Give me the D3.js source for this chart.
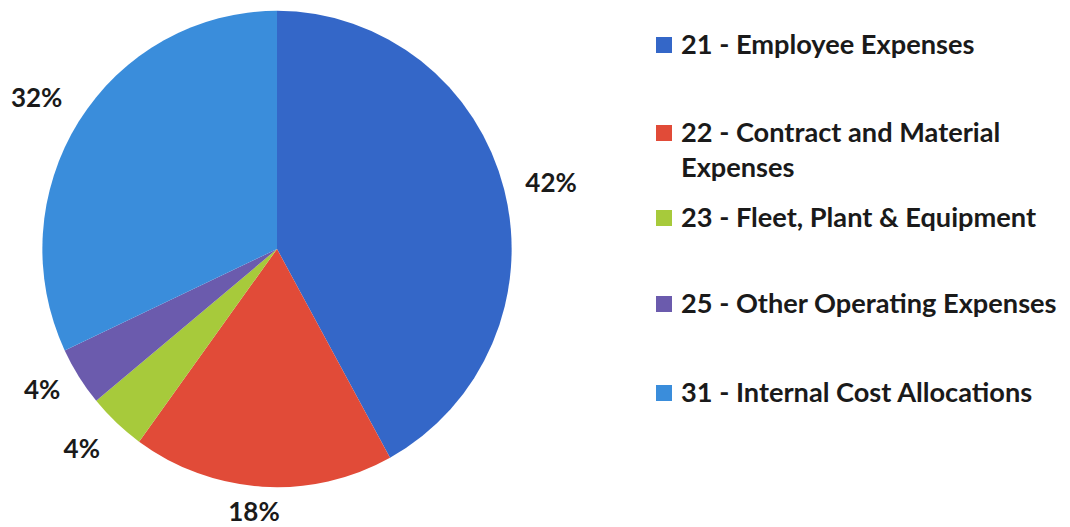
<!DOCTYPE html>
<html>
<head>
<meta charset="utf-8">
<script src="https://cdn.jsdelivr.net/npm/d3@7"></script>
<style>
  html, body { margin: 0; padding: 0; background: #fff; }
  svg { display: block; }
  text { font-family: Lato, "Open Sans", sans-serif; font-weight: bold; fill: #1a1a1a; }
</style>
</head>
<body>
<svg id="chart" width="1070" height="527"></svg>
<script>
// Expense categories and their share of the total (%)
const categories = [
  "21 - Employee Expenses",
  "22 - Contract and Material Expenses",
  "23 - Fleet, Plant & Equipment",
  "25 - Other Operating Expenses",
  "31 - Internal Cost Allocations"
];
const values = [42, 18, 4, 4, 32];
const colors = ["#3467C8", "#E14B38", "#A7CA3B", "#6B5BAD", "#3A8DDB"];
// Legend lines (long names wrap onto a second line)
const legendLines = [
  ["21 - Employee Expenses"],
  ["22 - Contract and Material", "Expenses"],
  ["23 - Fleet, Plant & Equipment"],
  ["25 - Other Operating Expenses"],
  ["31 - Internal Cost Allocations"]
];

const svg = d3.select("#chart");
const cx = 277, cy = 249, r = 237;

const data = categories.map((c, i) => ({ name: c, value: values[i], color: colors[i] }));
const pie = d3.pie().value(d => d.value).sort(null);
const arcs = pie(data);
const arc = d3.arc().innerRadius(0).outerRadius(r);

const g = svg.append("g").attr("transform", `translate(${cx},${cy}) scale(0.99,1.005)`);
g.selectAll("path")
  .data(arcs)
  .join("path")
  .attr("d", arc)
  .attr("fill", d => d.data.color);

// Percentage labels placed outside the pie, along each slice's mid-angle
const labelRadius = [282, 264, 279, 274, 284];
const labelAngleShift = [0.8, 1.4, 1.2, 1.4, -0.2]; // degrees
const fmt = d3.format(".0%");
svg.append("g").attr("transform", `translate(${cx},${cy})`)
  .selectAll("text")
  .data(arcs)
  .join("text")
  .attr("transform", (d, i) => {
    const a = (d.startAngle + d.endAngle) / 2 + labelAngleShift[i] * Math.PI / 180;
    const x = Math.sin(a) * labelRadius[i];
    const y = -Math.cos(a) * labelRadius[i];
    return `translate(${x},${y})`;
  })
  .attr("text-anchor", "middle")
  .attr("dy", "0.36em")
  .attr("font-size", 26)
  .text(d => fmt(d.data.value / 100));

// Legend
const legendX = 656;
const legendBaselines = [54, 142, 227, 313, 402];
const lg = svg.append("g");
legendLines.forEach((lines, i) => {
  const y = legendBaselines[i];
  lg.append("rect")
    .attr("x", legendX).attr("y", y - 17)
    .attr("width", 16).attr("height", 16)
    .attr("fill", colors[i]);
  lines.forEach((t, j) => {
    lg.append("text")
      .attr("x", legendX + 25)
      .attr("y", y + j * 35)
      .attr("font-size", 27.2)
      .text(t);
  });
});
</script>
</body>
</html>
